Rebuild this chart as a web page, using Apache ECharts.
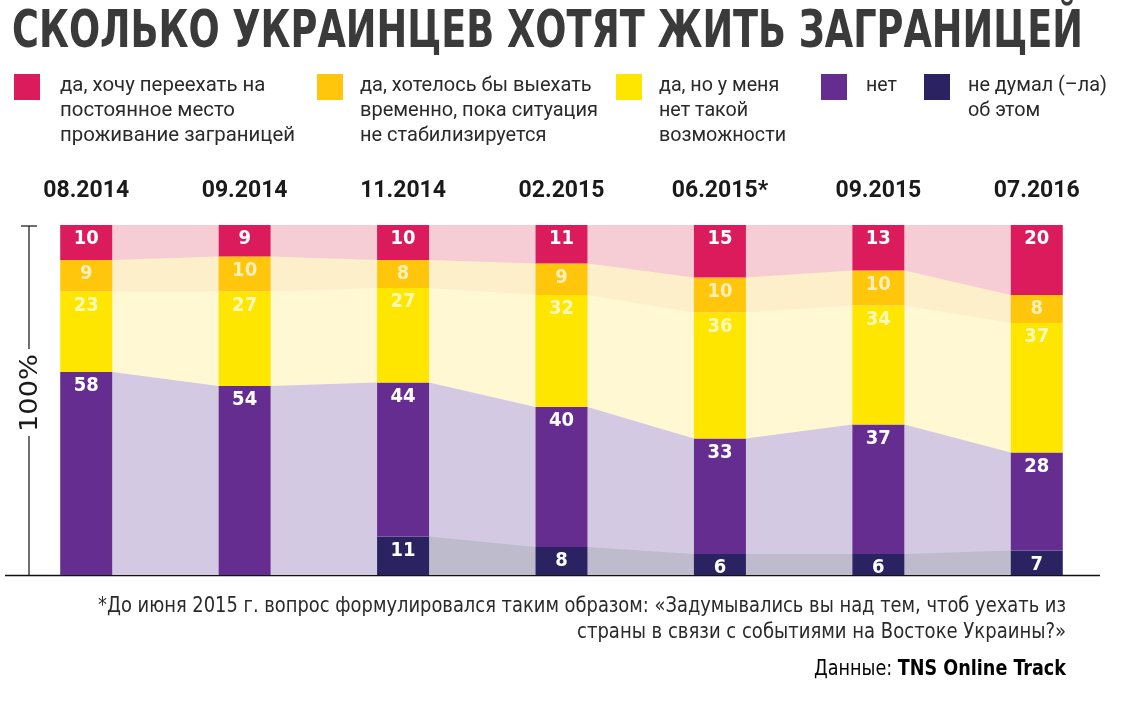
<!DOCTYPE html>
<html><head><meta charset="utf-8">
<script src="https://cdn.jsdelivr.net/npm/echarts@6/dist/echarts.min.js"></script>
<style>html,body{margin:0;padding:0;background:#fff}#c{width:1124px;height:724px}</style>
</head><body><div id="c"></div>
<script>
// ---- data ----
const titleText = 'СКОЛЬКО УКРАИНЦЕВ ХОТЯТ ЖИТЬ ЗАГРАНИЦЕЙ';
const categories = ['08.2014', '09.2014', '11.2014', '02.2015', '06.2015*', '09.2015', '07.2016'];
const notThought    = [0, 0, 11, 8, 6, 6, 7];       // не думал (-ла) об этом
const noValues      = [58, 54, 44, 40, 33, 37, 28]; // нет
const noPossibility = [23, 27, 27, 32, 36, 34, 37]; // да, но нет возможности
const temporary     = [9, 10, 8, 9, 10, 10, 8];     // да, временно
const permanent     = [10, 9, 10, 11, 15, 13, 20];  // да, на постоянное место
const legendLabels = [
  ['да, хочу переехать на', 'постоянное место', 'проживание заграницей'],
  ['да, хотелось бы выехать', 'временно, пока ситуация', 'не стабилизируется'],
  ['да, но у меня', 'нет такой', 'возможности'],
  ['нет'],
  ['не думал (–ла)', 'об этом']
];
const axisText = '100%';
const footLines = [
  '*До июня 2015 г. вопрос формулировался таким образом: «Задумывались вы над тем, чтоб уехать из',
  'страны в связи с событиями на Востоке Украины?»'
];
const sourceLabel = 'Данные: ';
const sourceName = 'TNS Online Track';

// ---- styles ----
const COND = '"DejaVu Sans Condensed"';
const layers = [ // bottom -> top
  { name: 'не думал (–ла) об этом', values: notThought, color: '#2B2262', band: '#BEBBCD', label: '#ffffff' },
  { name: 'нет', values: noValues, color: '#662D91', band: '#D3C9E3', label: '#ffffff' },
  { name: 'да, но у меня нет такой возможности', values: noPossibility, color: '#FFE600', band: '#FFF8D3', label: 'rgba(255,255,255,0.72)' },
  { name: 'да, хотелось бы выехать временно', values: temporary, color: '#FFC60B', band: '#FEEFCB', label: 'rgba(255,255,255,0.72)' },
  { name: 'да, хочу переехать на постоянное место', values: permanent, color: '#DC1B5D', band: '#F6CDD4', label: '#ffffff' }
];
const legendOrder = [4, 3, 2, 1, 0];
const BAR_W = 52;

const cum = layers.map(() => []);
for (let i = 0; i < categories.length; i++) {
  let s = 0;
  layers.forEach((l, k) => { s += l.values[i]; cum[k][i] = s; });
}

const cv = document.createElement('canvas').getContext('2d');
function measure(text, font) { cv.font = font; return cv.measureText(text).width; }

const chart = echarts.init(document.getElementById('c'), null, { renderer: 'canvas' });

const barSeries = layers.map((l) => ({
  type: 'bar', name: l.name, stack: 'total', barWidth: BAR_W, z: 3,
  data: l.values,
  itemStyle: { color: l.color },
  label: {
    show: true, position: 'insideTop', distance: 4,
    color: l.label, fontFamily: 'DejaVu Sans Condensed',
    fontWeight: 'bold', fontSize: 20,
    formatter: (p) => (p.value > 0 ? String(p.value) : '')
  },
  emphasis: { disabled: true }
}));

const bandSeries = {
  type: 'custom', z: 1, silent: true,
  encode: { x: 0, y: 1 },
  data: categories.slice(0, -1).map((c, i) => [i, 0]),
  renderItem(params, api) {
    const i = api.value(0);
    const half = BAR_W / 2;
    const xa = api.coord([i, 0])[0] + half;
    const xb = api.coord([i + 1, 0])[0] - half;
    const y0 = api.coord([i, 0])[1];
    const children = [];
    for (let k = layers.length - 1; k >= 0; k--) {
      if (layers[k].values[i] === 0 || layers[k].values[i + 1] === 0) continue;
      const ya = api.coord([i, cum[k][i]])[1];
      const yb = api.coord([i + 1, cum[k][i + 1]])[1];
      children.push({ type: 'polygon', shape: { points: [[xa, y0], [xa, ya], [xb, yb], [xb, y0]] }, style: { fill: layers[k].band } });
    }
    return { type: 'group', children };
  }
};

// ---- graphics (title, legend, axis decorations, footnotes) ----
const graphics = [];
const titleFont = 'bold 52px ' + COND;
graphics.push({
  type: 'text', x: 12, y: 33, scaleX: 1071 / measure(titleText, titleFont),
  style: { text: titleText, font: titleFont, fill: '#3A3A3A', verticalAlign: 'middle' }
});
const legSq = [14, 317, 616, 821, 924];
const legTx = [60, 360, 659, 866, 968];
const legW = [235, 238, 127, 31, 139];
const legFont = '20px Roboto';
legendOrder.forEach((k, j) => {
  graphics.push({ type: 'rect', shape: { x: legSq[j], y: 74, width: 26, height: 26 }, style: { fill: layers[k].color } });
  const widest = Math.max(...legendLabels[j].map(t => measure(t, legFont)));
  graphics.push({
    type: 'text', x: legTx[j], y: 73, scaleX: legW[j] / widest,
    style: { text: legendLabels[j].join('\n'), font: legFont, fill: '#2A2A2A', lineHeight: 25, verticalAlign: 'top' }
  });
});
// axis decorations
graphics.push({ type: 'line', shape: { x1: 5, y1: 575.5, x2: 1100, y2: 575.5 }, style: { stroke: '#111', lineWidth: 1.5 } });
graphics.push({ type: 'line', shape: { x1: 29, y1: 226, x2: 29, y2: 349 }, style: { stroke: '#111', lineWidth: 1.2 } });
graphics.push({ type: 'line', shape: { x1: 29, y1: 436, x2: 29, y2: 575 }, style: { stroke: '#111', lineWidth: 1.2 } });
graphics.push({ type: 'line', shape: { x1: 21, y1: 226, x2: 37, y2: 226 }, style: { stroke: '#111', lineWidth: 1.2 } });
const axFont = '25px ' + COND;
graphics.push({
  type: 'text', x: 30, y: 393, rotation: Math.PI / 2, scaleX: 78 / measure(axisText, axFont),
  style: { text: axisText, font: axFont, fill: '#1A1A1A', align: 'center', verticalAlign: 'middle' }
});
// footnotes
const footFont = '21px ' + COND;
const footW = [968, 489];
const footY = [607, 633];
footLines.forEach((t, j) => {
  graphics.push({
    type: 'text', x: 1066, y: footY[j], scaleX: footW[j] / measure(t, footFont),
    style: { text: t, font: footFont, fill: '#2A2A2A', align: 'right', verticalAlign: 'middle' }
  });
});
const srcMeasured = measure(sourceLabel, '21px ' + COND) + measure(sourceName, 'bold 21px ' + COND);
graphics.push({
  type: 'text', x: 1066, y: 670, scaleX: 252 / srcMeasured,
  style: {
    text: '{r|' + sourceLabel + '}{b|' + sourceName + '}', align: 'right', verticalAlign: 'middle',
    rich: {
      r: { fontFamily: 'DejaVu Sans Condensed', fontSize: 21, color: '#2A2A2A' },
      b: { fontFamily: 'DejaVu Sans Condensed', fontSize: 21, fontWeight: 'bold', color: '#111' }
    }
  }
});

chart.setOption({
  backgroundColor: '#ffffff',
  animation: false,
  grid: { left: 7, right: 8, top: 225, height: 350 },
  xAxis: {
    type: 'category', data: categories, position: 'top',
    axisLine: { show: false }, axisTick: { show: false },
    axisLabel: { margin: 22, color: '#1A1A1A', fontFamily: 'Roboto', fontWeight: 'bold', fontSize: 23 }
  },
  yAxis: { type: 'value', min: 0, max: 100, show: false },
  series: [bandSeries, ...barSeries],
  graphic: graphics
});
</script>
</body></html>
